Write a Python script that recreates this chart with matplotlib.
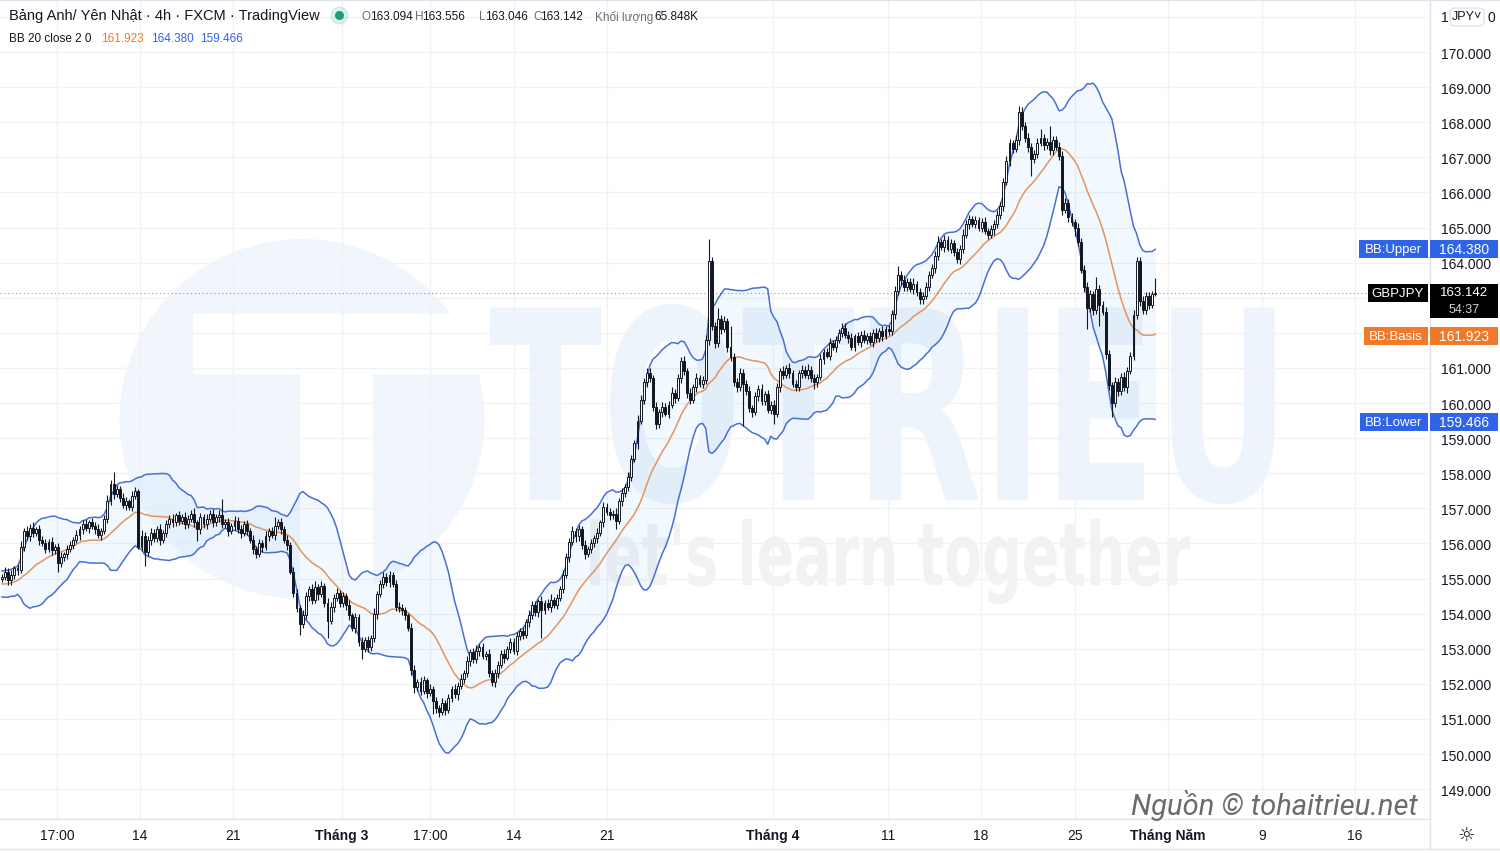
import matplotlib
matplotlib.use("Agg")
import matplotlib.pyplot as plt
import numpy as np
import pandas as pd
from matplotlib import transforms
from matplotlib.patches import Rectangle, FancyBboxPatch, Ellipse, PathPatch
from matplotlib.lines import Line2D
from matplotlib.textpath import TextPath
from matplotlib.font_manager import FontProperties
from matplotlib.transforms import Affine2D

plt.rcParams['font.family'] = ['Liberation Sans', 'DejaVu Sans']

# ---------------- data (GBPJPY 4h) ----------------
warmup_closes = [155.10, 154.90, 154.60, 154.70, 154.50, 154.65, 154.85, 155.00, 154.75, 154.55,
                 154.80, 155.05, 154.95, 154.70, 154.85, 155.15, 155.00, 154.80, 154.95]

first_open = 155.00
closes = [
    155.05, 155.20, 154.95, 155.10, 155.30, 155.25, 155.90, 156.35, 156.20, 156.45,
    156.30, 156.40, 156.10, 156.00, 155.85, 156.05, 155.80, 155.90, 155.45, 155.60,
    155.70, 155.85, 155.95, 156.10, 156.25, 156.40, 156.55, 156.45, 156.60, 156.50,
    156.40, 156.25, 156.35, 156.70, 157.20, 157.70, 157.40, 157.55, 157.30, 157.10,
    157.20, 157.05, 157.35, 157.50, 155.90, 156.20, 155.75, 156.10, 156.30, 156.15,
    156.40, 156.10, 156.30, 156.55, 156.70, 156.60, 156.80, 156.65, 156.75, 156.55,
    156.70, 156.85, 156.60, 156.40, 156.75, 156.55, 156.70, 156.85, 156.60, 156.75,
    156.80, 156.55, 156.60, 156.35, 156.50, 156.65, 156.40, 156.30, 156.55, 156.35,
    156.10, 155.85, 155.70, 156.00, 155.90, 156.20, 156.35, 156.25, 156.50, 156.60,
    156.40, 156.10, 155.95, 155.20, 154.60, 154.15, 153.70, 153.95, 154.50, 154.70,
    154.40, 154.75, 154.55, 154.80, 154.30, 153.80, 154.20, 154.45, 154.60, 154.30,
    154.50, 154.25, 153.95, 153.60, 153.90, 153.20, 153.00, 153.25, 153.05, 153.30,
    154.00, 154.55, 154.85, 155.05, 154.90, 155.10, 154.85, 154.20, 154.15, 154.10,
    153.95, 153.60, 152.40, 151.90, 152.05, 151.80, 152.10, 151.75, 151.85, 151.50,
    151.30, 151.20, 151.45, 151.25, 151.60, 151.85, 151.70, 151.95, 152.15, 152.30,
    152.65, 152.90, 152.70, 152.95, 153.05, 152.80, 152.85, 152.30, 152.05, 152.30,
    152.55, 152.85, 152.75, 153.00, 153.20, 152.95, 153.35, 153.50, 153.40, 153.75,
    153.95, 154.25, 154.05, 154.35, 154.10, 154.30, 154.20, 154.40, 154.25, 154.45,
    154.70, 155.10, 155.60, 156.05, 156.35, 156.20, 156.40, 155.95, 155.70, 155.85,
    156.00, 156.15, 156.30, 156.60, 157.05, 156.90, 156.80, 156.85, 156.65, 157.20,
    157.45, 157.60, 157.90, 158.40, 158.85, 159.50, 160.10, 160.60, 160.85, 160.70,
    159.90, 159.40, 159.75, 159.90, 159.70, 159.95, 160.30, 160.15, 160.70, 161.20,
    160.90, 160.30, 160.10, 160.45, 160.70, 160.55, 160.65, 161.80, 164.05, 162.20,
    161.70, 162.40, 162.10, 162.35, 161.60, 161.30, 160.60, 160.45, 160.85, 160.55,
    160.35, 159.85, 159.75, 160.20, 160.40, 160.05, 160.25, 159.80, 159.95, 159.70,
    160.45, 160.90, 160.80, 161.00, 160.85, 160.55, 160.45, 160.85, 160.95, 160.80,
    160.95, 160.70, 160.60, 160.75, 161.25, 161.45, 161.35, 161.70, 161.60, 161.80,
    162.00, 162.15, 161.95, 161.85, 161.60, 161.90, 161.75, 161.95, 161.80, 161.90,
    161.75, 162.00, 161.85, 162.05, 161.90, 162.10, 162.05, 162.55, 163.20, 163.65,
    163.50, 163.30, 163.45, 163.25, 163.40, 163.15, 162.95, 163.05, 163.30, 163.65,
    163.85, 164.20, 164.60, 164.45, 164.65, 164.40, 164.55, 164.30, 164.10, 164.40,
    164.80, 165.10, 165.25, 165.10, 165.20, 165.00, 165.15, 164.90, 164.80, 164.95,
    165.10, 165.35, 165.60, 166.30, 166.90, 167.40, 167.25, 167.50, 168.30, 167.90,
    167.55, 167.30, 166.95, 167.10, 167.40, 167.55, 167.35, 167.45, 167.20, 167.50,
    167.30, 167.05, 165.50, 165.70, 165.30, 165.15, 165.00, 164.60, 163.80, 163.30,
    162.70, 163.10, 162.65, 163.25, 162.80, 162.60, 161.40, 160.50, 160.00, 160.60,
    160.35, 160.75, 160.45, 160.90, 161.35, 162.50, 164.05, 162.90, 162.65, 163.05,
    162.80, 163.094, 163.142,
]

upper_wick_pips = [
    8, 12, 10, 15, 6, 12, 18, 10, 14, 9,
    15, 8, 12, 10, 14, 9, 12, 8, 10, 15,
    6, 10, 12, 8, 14, 10, 12, 15, 8, 12,
    10, 14, 8, 12, 18, 10, 33, 12, 10, 15,
    12, 8, 14, 10, 6, 18, 12, 10, 15, 12,
    10, 14, 8, 12, 10, 15, 8, 12, 10, 14,
    12, 10, 15, 8, 12, 10, 14, 9, 12, 10,
    15, 47, 10, 12, 8, 14, 10, 12, 9, 12,
    10, 14, 8, 12, 10, 15, 8, 12, 25, 10,
    12, 10, 14, 8, 12, 10, 9, 15, 12, 10,
    14, 18, 10, 12, 8, 15, 12, 10, 14, 8,
    12, 10, 15, 8, 12, 10, 14, 9, 12, 10,
    15, 10, 12, 15, 10, 12, 8, 10, 14, 12,
    10, 8, 12, 15, 10, 14, 12, 8, 15, 10,
    12, 10, 14, 8, 12, 10, 15, 9, 12, 10,
    14, 10, 12, 15, 8, 12, 10, 14, 9, 12,
    10, 12, 15, 8, 12, 10, 14, 9, 12, 10,
    15, 10, 12, 8, 14, 10, 12, 15, 8, 12,
    10, 14, 12, 10, 15, 8, 12, 10, 14, 9,
    12, 10, 15, 8, 14, 10, 12, 9, 15, 10,
    12, 10, 14, 12, 10, 15, 12, 10, 14, 15,
    10, 12, 8, 14, 10, 12, 15, 9, 12, 10,
    14, 10, 12, 8, 15, 10, 12, 14, 62, 10,
    12, 30, 10, 14, 8, 60, 12, 10, 15, 12,
    10, 14, 8, 12, 10, 15, 9, 12, 10, 14,
    12, 10, 15, 8, 14, 10, 12, 9, 12, 10,
    15, 10, 12, 8, 14, 10, 12, 15, 9, 12,
    10, 14, 12, 10, 15, 8, 12, 10, 14, 9,
    12, 10, 15, 8, 14, 10, 12, 9, 12, 25,
    10, 14, 12, 10, 15, 8, 12, 10, 14, 12,
    10, 12, 15, 8, 14, 10, 12, 9, 12, 10,
    15, 10, 12, 8, 14, 10, 12, 15, 9, 12,
    10, 14, 12, 10, 15, 12, 10, 14, 15, 12,
    10, 14, 12, 10, 15, 25, 12, 10, 45, 12,
    10, 14, 12, 15, 10, 12, 8, 14, 10, 12,
    15, 12, 10, 35, 12, 10, 14, 12, 10, 15,
    12, 10, 14, 12, 10, 15, 10, 12, 14, 10,
    12, 10, 41.4,
]

lower_wick_pips = [
    10, 8, 14, 12, 10, 15, 9, 12, 10, 14,
    12, 10, 15, 8, 12, 10, 14, 9, 25, 12,
    10, 14, 8, 12, 10, 15, 12, 10, 14, 8,
    12, 10, 15, 8, 12, 10, 14, 9, 12, 10,
    14, 10, 12, 8, 6, 12, 39, 10, 14, 12,
    10, 15, 8, 12, 10, 14, 9, 12, 10, 15,
    12, 10, 14, 32, 12, 10, 15, 8, 12, 10,
    14, 10, 12, 15, 8, 12, 10, 14, 9, 12,
    10, 15, 12, 10, 14, 8, 12, 10, 15, 9,
    12, 10, 14, 8, 12, 10, 30, 12, 10, 14,
    12, 10, 15, 8, 12, 50, 10, 14, 9, 12,
    10, 14, 12, 10, 15, 12, 30, 10, 14, 12,
    10, 15, 8, 12, 10, 14, 9, 12, 10, 15,
    12, 10, 14, 15, 10, 12, 8, 14, 10, 35,
    12, 15, 10, 14, 8, 12, 10, 15, 9, 12,
    10, 14, 12, 10, 15, 8, 12, 10, 10, 14,
    12, 10, 15, 8, 12, 10, 14, 9, 12, 10,
    14, 10, 12, 15, 80, 12, 10, 14, 9, 12,
    10, 12, 8, 14, 10, 15, 12, 10, 14, 9,
    12, 10, 15, 8, 12, 10, 14, 9, 25, 10,
    12, 14, 10, 12, 8, 15, 10, 12, 14, 10,
    12, 14, 10, 15, 8, 12, 10, 14, 9, 12,
    10, 15, 12, 10, 14, 8, 12, 10, 15, 12,
    14, 10, 12, 8, 15, 10, 12, 14, 10, 120,
    12, 10, 15, 8, 14, 10, 12, 9, 12, 30,
    10, 14, 12, 10, 15, 8, 12, 10, 14, 9,
    12, 10, 20, 14, 10, 15, 8, 12, 10, 14,
    9, 12, 10, 15, 8, 12, 10, 14, 9, 12,
    10, 15, 12, 10, 14, 8, 12, 10, 15, 12,
    14, 10, 12, 8, 15, 10, 12, 14, 10, 12,
    10, 15, 12, 10, 14, 8, 12, 10, 10, 14,
    12, 10, 15, 8, 12, 10, 14, 9, 12, 10,
    15, 10, 12, 14, 10, 15, 12, 10, 14, 12,
    10, 14, 47, 10, 12, 8, 15, 10, 12, 14,
    10, 12, 15, 8, 14, 10, 23, 12, 10, 15,
    60, 10, 14, 12, 60, 10, 15, 12, 40, 10,
    14, 12, 10, 15, 8, 12, 10, 14, 12, 10,
    12, 10, 4.8,
]

x_tick_labels = ["17:00", "14", "21", "Tháng 3", "17:00", "14", "21",
                 "Tháng 4", "11", "18", "25", "Tháng Năm", "9", "16"]
x_tick_bars = [17.7, 44.5, 74.5, 109.7, 138.1, 165.2, 195.2,
               248.7, 285.8, 315.8, 346.1, 376.1, 406.5, 436.5]
month_labels = ["Tháng 3", "Tháng 4", "Tháng Năm"]
price_ticks = list(range(149, 172))

bb_values = {"BB:Basis": 161.923, "BB:Upper": 164.380, "BB:Lower": 159.466}
ohlc_header = [("O", 163.094), ("H", 163.556), ("L", 163.046), ("C", 163.142)]
volume_text = "65.848K"
countdown = "54:37"

# ---------------- derived ----------------
c = np.array(closes, dtype=float)
o = np.concatenate([[first_open], c[:-1]])
hi = np.maximum(o, c) + np.array(upper_wick_pips) / 100.0
lo = np.minimum(o, c) - np.array(lower_wick_pips) / 100.0
n = len(c)
x = np.arange(n)

s = pd.Series(warmup_closes + closes)
mid = s.rolling(20).mean().to_numpy()[-n:]
sd = s.rolling(20).std(ddof=0).to_numpy()[-n:]
upper = mid + 2 * sd
lower = mid - 2 * sd

# ---------------- figure ----------------
W, H = 1500, 854
fig = plt.figure(figsize=(W / 100, H / 100), dpi=100)
fig.patch.set_facecolor('white')
AX_W, AX_H = 1430, 820
ax = fig.add_axes([0, 1 - AX_H / H, AX_W / W, AX_H / H])
ax.set_facecolor('white')
PX = 3.1  # pixel spacing of candles
XLIM = (-2 / PX, (AX_W - 2) / PX)
YLIM = (148.15, 171.51)

# watermark logo (circle with a white T) and texts
wm = '#f1f6fc'
ax.add_patch(Ellipse((302 / AX_W, 1 - 420 / AX_H), 365 / AX_W, 360 / AX_H,
                     transform=ax.transAxes, color=wm, lw=0, zorder=0))
ax.add_patch(Rectangle((193 / AX_W, 1 - 375 / AX_H), 300 / AX_W, 60 / AX_H,
                       transform=ax.transAxes, color='white', lw=0, zorder=0.1))
ax.add_patch(Rectangle((300 / AX_W, 1 - 640 / AX_H), 73 / AX_W, 265 / AX_H,
                       transform=ax.transAxes, color='white', lw=0, zorder=0.1))


def fit_text(txt, left, right, top, bottom, color, family='DejaVu Sans'):
    tp = TextPath((0, 0), txt, size=1, prop=FontProperties(family=family, weight='bold'))
    ext = tp.get_extents()
    sx = (right - left) / AX_W / ext.width
    sy = (bottom - top) / AX_H / ext.height
    tr = (Affine2D().translate(-ext.x0, -ext.y0).scale(sx, sy)
          .translate(left / AX_W, 1 - bottom / AX_H) + ax.transAxes)
    ax.add_patch(PathPatch(tp, transform=tr, color=color, lw=0, zorder=0.2))


fit_text("TOTRIEU", 490, 1275, 305, 505, '#eef4fb')
fit_text("let's learn together", 590, 1190, 520, 605, '#f2f2f2')

# grid
ax.set_yticks(price_ticks)
ax.set_xticks(x_tick_bars)
ax.grid(True, color='#f0f2f6', lw=1, zorder=0.5)
ax.set_axisbelow(True)

# Bollinger bands
ax.fill_between(x, lower, upper, color='#2196f3', alpha=0.06, lw=0, zorder=1)
ax.plot(x, upper, color='#4a6fd4', lw=1.1, zorder=2)
ax.plot(x, lower, color='#4a6fd4', lw=1.1, zorder=2)
ax.plot(x, mid, color='#e3955c', lw=1.1, zorder=2)

# candles
ink = '#131722'
ax.vlines(x, lo, hi, color=ink, lw=0.8, zorder=3)
body_bot = np.minimum(o, c)
body_h = np.maximum(np.abs(c - o), 0.03)
up = c >= o
ax.bar(x[up], body_h[up], bottom=body_bot[up], width=0.62, color='#ffffff',
       edgecolor=ink, linewidth=0.7, zorder=4)
ax.bar(x[~up], body_h[~up], bottom=body_bot[~up], width=0.62, color=ink,
       edgecolor=ink, linewidth=0.7, zorder=4)

# current price dotted line
ax.axhline(c[-1], color=ink, lw=0.8, ls=(0, (1, 2.5)), alpha=0.45, zorder=2.5)

ax.set_xlim(*XLIM)
ax.set_ylim(*YLIM)

# axes styling
for sp in ['top', 'left']:
    ax.spines[sp].set_visible(False)
for sp in ['right', 'bottom']:
    ax.spines[sp].set_color('#e0e3eb')
    ax.spines[sp].set_linewidth(1)
ax.yaxis.tick_right()
top_tick = price_ticks[-1]
box_prices = list(bb_values.values()) + [c[-1]]


def tick_text(v):
    # labels hidden behind the price boxes (and the JPY button) are left blank
    if v == top_tick or any(abs(v - p) < 0.3 for p in box_prices):
        return ""
    return f"{v:.3f}"


ax.set_yticklabels([tick_text(v) for v in price_ticks])
ax.tick_params(axis='y', length=0, pad=8, labelsize=10, labelcolor=ink)
ax.set_xticklabels(x_tick_labels)
ax.tick_params(axis='x', length=0, pad=6.5, labelsize=10, labelcolor=ink)
for lab in ax.get_xticklabels():
    if lab.get_text() in month_labels:
        lab.set_fontweight('bold')

# extra frame lines
fig.add_artist(Line2D([0, 1], [1 - 850 / H] * 2, color='#e0e3eb', lw=1))
fig.add_artist(Line2D([AX_W / W] * 2, [1 - 850 / H, 1 - AX_H / H], color='#e0e3eb', lw=1))
fig.add_artist(Line2D([0, 1], [1 - 0.5 / H] * 2, color='#e0e3eb', lw=1))
fig.text(1466 / W, 1 - 835 / H, "☼", ha='center', va='center', fontsize=14,
         color=ink, family='DejaVu Sans')

# price boxes on the right
ppu = ax.bbox.height / (YLIM[1] - YLIM[0])
btr = transforms.blended_transform_factory(fig.transFigure, ax.transData)


def box(price, x0, x1, color, text, up_px=9, dn_px=9, fs=9.5, tcol='white', text_dy=0):
    fig.add_artist(Rectangle((x0 / W, price - dn_px / ppu), (x1 - x0) / W,
                             (up_px + dn_px) / ppu, transform=btr, facecolor=color,
                             edgecolor='none', lw=0, zorder=10))
    fig.text((x0 + x1) / 2 / W, price + text_dy / ppu, text, transform=btr, ha='center',
             va='center', fontsize=fs, color=tcol, zorder=11)


blue = '#2f63e8'
orange = '#f07a2a'
box(bb_values["BB:Upper"], 1359, 1428, blue, "BB:Upper")
box(bb_values["BB:Upper"], 1430, 1498, blue, f"{bb_values['BB:Upper']:.3f}", fs=10)
box(bb_values["BB:Basis"], 1364, 1428, orange, "BB:Basis")
box(bb_values["BB:Basis"], 1430, 1498, orange, f"{bb_values['BB:Basis']:.3f}", fs=10)
box(bb_values["BB:Lower"], 1360, 1428, blue, "BB:Lower")
box(bb_values["BB:Lower"], 1430, 1498, blue, f"{bb_values['BB:Lower']:.3f}", fs=10)
box(c[-1], 1368, 1428, '#000000', "GBPJPY")
box(c[-1], 1430, 1498, '#000000', f"{c[-1]:.3f}", up_px=9, dn_px=25, fs=9.5, text_dy=1)
fig.text(1464 / W, c[-1] - 16 / ppu, countdown, transform=btr, ha='center', va='center',
         fontsize=9, color='#d1d4dc', zorder=11)

# JPY currency button over the top tick (its label shows at both sides)
ftop = 1 - 17.5 / H
fig.text(1441 / W, ftop, str(top_tick)[0], ha='left', va='center', fontsize=10, color=ink)
fig.text(1487 / W, ftop, "0", ha='left', va='center', fontsize=10, color=ink)
fig.add_artist(FancyBboxPatch((1450 / W, 1 - 27 / H), 34 / W, 18 / H,
                              boxstyle="round,pad=0,rounding_size=0.004",
                              transform=fig.transFigure, facecolor='white',
                              edgecolor='#e0e3eb', lw=1, zorder=12))
fig.text(1467 / W, ftop, "JPY˅", ha='center', va='center', fontsize=9,
         color=ink, zorder=13)

# header
def ftxt(px, py, txt, **kw):
    kw.setdefault('va', 'center')
    kw.setdefault('ha', 'left')
    return fig.text(px / W, 1 - py / H, txt, **kw)


ftxt(9, 16, "Bảng Anh/ Yên Nhật · 4h · FXCM · TradingView", fontsize=10.5, color=ink)
fig.add_artist(Line2D([339 / W], [1 - 16 / H], marker='o', markersize=12, color='#26a69a',
                      alpha=0.15, transform=fig.transFigure, lw=0))
fig.add_artist(Line2D([339 / W], [1 - 16 / H], marker='o', markersize=5.5, color='#1f9d7a',
                      transform=fig.transFigure, lw=0))
hx = [362, 415, 479, 533]
letter_w = {"O": 8, "H": 7, "L": 6, "C": 7}
for (lbl, val), px in zip(ohlc_header, hx):
    ftxt(px, 17, lbl, fontsize=8.5, color='#6a6d78')
    ftxt(px + letter_w[lbl], 17, f"{val:.3f}", fontsize=8.5, color=ink)
ftxt(595, 17, "Khối lượng", fontsize=8.5, color='#6a6d78')
ftxt(654, 17, volume_text, fontsize=8.5, color=ink)

ftxt(9, 39, "BB 20 close 2 0", fontsize=8.5, color=ink)
ftxt(101, 39, f"{bb_values['BB:Basis']:.3f}", fontsize=8.5, color=orange)
ftxt(151, 39, f"{bb_values['BB:Upper']:.3f}", fontsize=8.5, color=blue)
ftxt(200, 39, f"{bb_values['BB:Lower']:.3f}", fontsize=8.5, color=blue)

# source watermark
ftxt(1418, 806, "Nguồn © tohaitrieu.net", ha='right', fontsize=21, color='#6b6b6b',
     style='italic', family=['Roboto', 'DejaVu Sans'])

fig.savefig("out.png", dpi=100, facecolor='white')
